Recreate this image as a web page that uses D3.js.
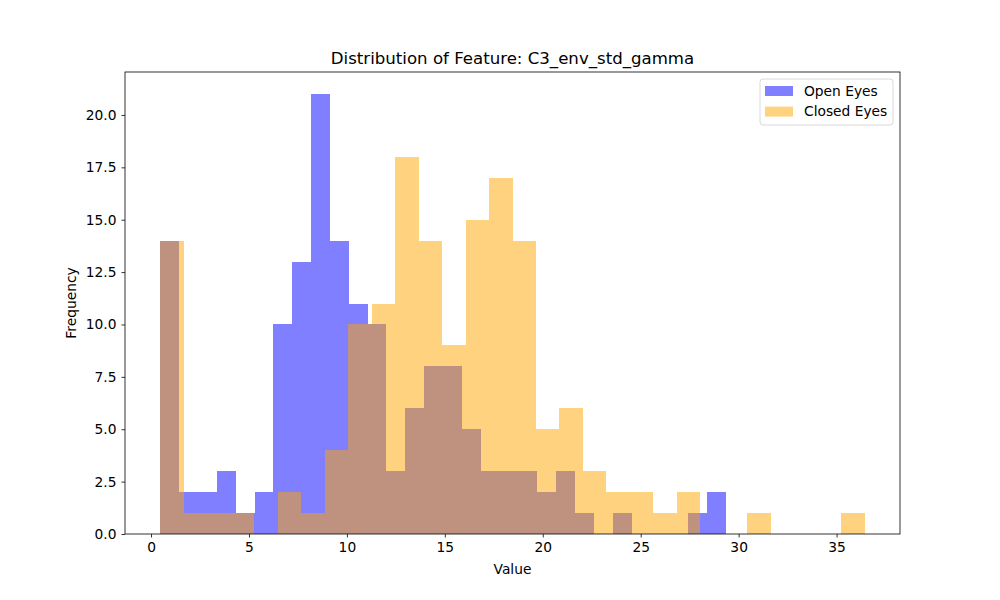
<!DOCTYPE html>
<html>
<head>
<meta charset="utf-8">
<script src="https://cdn.jsdelivr.net/npm/d3@7"></script>
<style>
  body { margin: 0; background: #fff; }
  svg { font-family: "DejaVu Sans", sans-serif; }
</style>
</head>
<body>
<div id="chart"></div>
<script>
// histogram counts, 30 bins each
const openCounts = [14, 2, 2, 3, 1, 2, 10, 13, 21, 14, 11, 10, 3, 6, 8, 8, 5, 3, 3, 3, 2, 3, 1, 0, 1, 0, 0, 0, 1, 2];
const closedCounts = [14, 1, 1, 1, 0, 2, 1, 4, 10, 11, 18, 14, 9, 15, 17, 14, 5, 6, 3, 2, 2, 1, 2, 0, 0, 1, 0, 0, 0, 1];
// range covered by each series' bins
const openRange = [0.47, 29.35];
const closedRange = [0.47, 36.44];
const seriesNames = ["Open Eyes", "Closed Eyes"];
const seriesColors = ["blue", "orange"];
const xTicks = [0, 5, 10, 15, 20, 25, 30, 35];
const yTicks = [0, 2.5, 5, 7.5, 10, 12.5, 15, 17.5, 20];

const width = 1000;
const height = 600;
const marginTop = 72;
const marginRight = 100;
const marginBottom = 66;
const marginLeft = 125;
const fontSize = 13.8;

const svg = d3.select("#chart").append("svg")
  .attr("width", width)
  .attr("height", height);

// bins from evenly split range
function makeBins (counts, range) {
  const w = (range[1] - range[0]) / counts.length;
  return counts.map((c, i) => ({x0: range[0] + i * w, x1: range[0] + (i + 1) * w, count: c}));
}
const openBins = makeBins(openCounts, openRange);
const closedBins = makeBins(closedCounts, closedRange);

// matplotlib style 5% margins
const xMin = Math.min(openRange[0], closedRange[0]);
const xMax = Math.max(openRange[1], closedRange[1]);
const pad = (xMax - xMin) * 0.05;
const x = d3.scaleLinear()
  .domain([xMin - pad, xMax + pad])
  .range([marginLeft, width - marginRight]);

const yMax = d3.max(openCounts.concat(closedCounts)) * 1.05;
const y = d3.scaleLinear()
  .domain([0, yMax])
  .range([height - marginBottom, marginTop]);

// bars, one path per series so neighbours don't leave seams
[openBins, closedBins].forEach((bins, k) => {
  const path = d3.path();
  bins.filter(d => d.count > 0).forEach(d => {
    path.rect(x(d.x0), y(d.count), x(d.x1) - x(d.x0), y(0) - y(d.count));
  });
  svg.append("path")
    .attr("d", path.toString())
    .attr("fill", seriesColors[k])
    .attr("fill-opacity", 0.5)
    .attr("shape-rendering", "crispEdges");
});

// axes
const xAxis = svg.append("g")
  .attr("transform", `translate(0,${height - marginBottom})`)
  .call(d3.axisBottom(x).tickValues(xTicks).tickFormat(d3.format("d")).tickSizeOuter(0).tickSize(3.5).tickPadding(5));
const yAxis = svg.append("g")
  .attr("transform", `translate(${marginLeft},0)`)
  .call(d3.axisLeft(y).tickValues(yTicks).tickFormat(d3.format(".1f")).tickSizeOuter(0).tickSize(3.5).tickPadding(5));

for (const ax of [xAxis, yAxis]) {
  ax.selectAll("text").attr("font-size", fontSize).attr("fill", "#000").attr("font-family", "DejaVu Sans");
  ax.selectAll("line").attr("stroke", "#000").attr("stroke-width", 0.8);
  ax.select(".domain").remove();
}

// frame
svg.append("rect")
  .attr("x", marginLeft)
  .attr("y", marginTop)
  .attr("width", width - marginLeft - marginRight)
  .attr("height", height - marginTop - marginBottom)
  .attr("fill", "none")
  .attr("stroke", "#000")
  .attr("stroke-width", 0.8);

// titles
svg.append("text")
  .attr("x", (marginLeft + width - marginRight) / 2)
  .attr("y", marginTop - 8)
  .attr("text-anchor", "middle")
  .attr("font-size", 16.6)
  .text("Distribution of Feature: C3_env_std_gamma");

svg.append("text")
  .attr("x", (marginLeft + width - marginRight) / 2)
  .attr("y", 574)
  .attr("text-anchor", "middle")
  .attr("font-size", fontSize)
  .text("Value");

svg.append("text")
  .attr("transform", `translate(76,${(marginTop + height - marginBottom) / 2}) rotate(-90)`)
  .attr("text-anchor", "middle")
  .attr("font-size", fontSize)
  .text("Frequency");

// legend
const legend = svg.append("g").attr("transform", `translate(${width - marginRight - 140},${marginTop + 7})`);
legend.append("rect")
  .attr("width", 133)
  .attr("height", 46)
  .attr("rx", 3)
  .attr("fill", "#fff")
  .attr("fill-opacity", 0.8)
  .attr("stroke", "#d9d9d9")
  .attr("stroke-width", 1);
seriesNames.forEach((name, i) => {
  legend.append("rect")
    .attr("x", 5)
    .attr("y", 7 + i * 20.6)
    .attr("width", 28)
    .attr("height", 10)
    .attr("fill", seriesColors[i])
    .attr("fill-opacity", 0.5);
  legend.append("text")
    .attr("x", 44)
    .attr("y", 12 + i * 20.6)
    .attr("dy", "0.35em")
    .attr("font-size", fontSize)
    .text(name);
});
</script>
</body>
</html>
